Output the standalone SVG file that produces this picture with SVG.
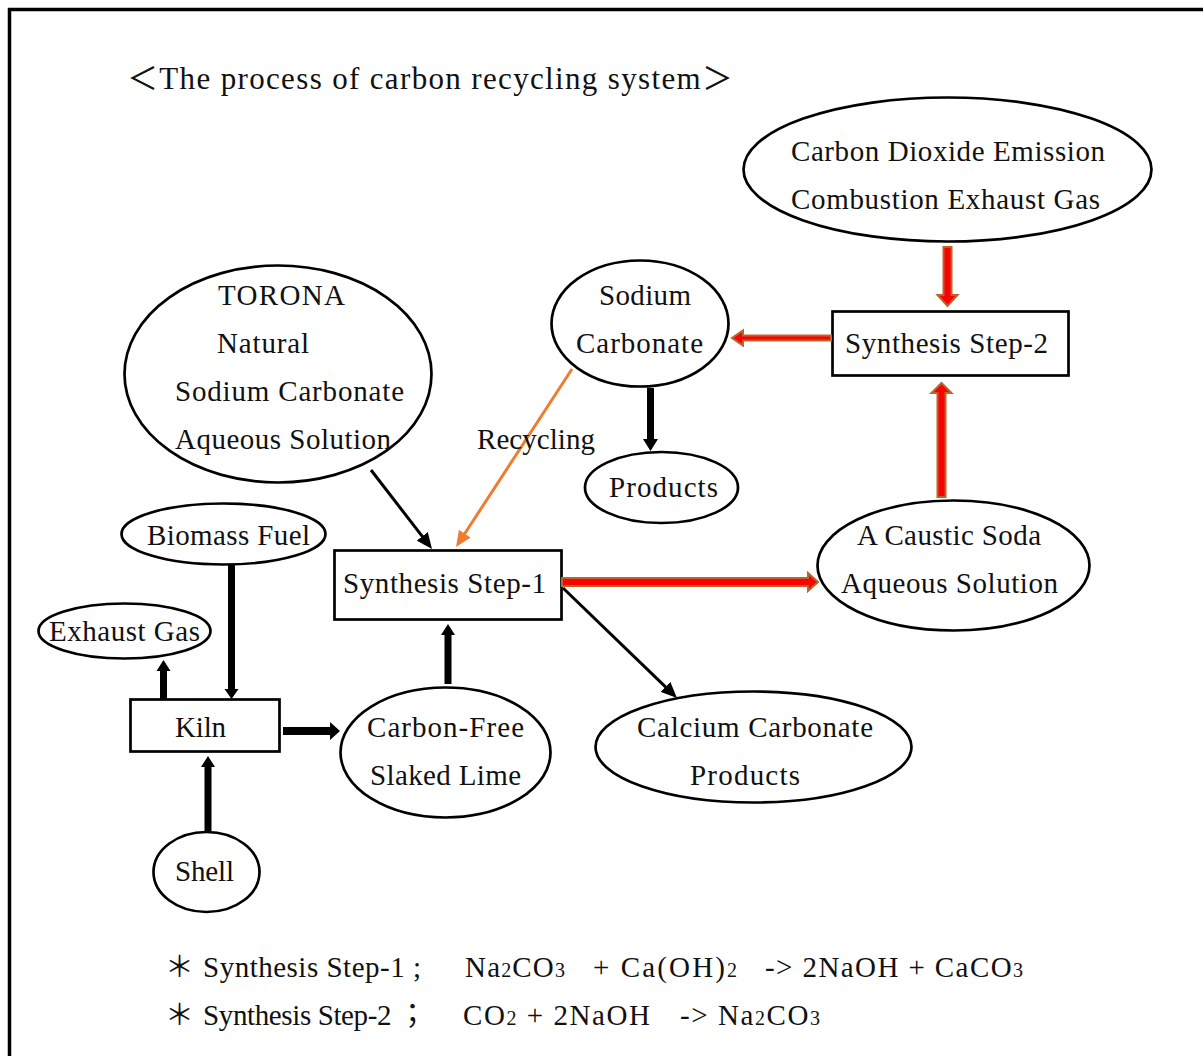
<svg xmlns="http://www.w3.org/2000/svg" width="1203" height="1056" viewBox="0 0 1203 1056">
<style>
text{font-family:'Liberation Serif','Noto Sans CJK JP',serif;font-size:29px;fill:#111;}
.sh{fill:#fff;stroke:#000;stroke-width:2.7;}
.red{fill:#ff0000;stroke:#b8652e;stroke-width:2;}
.blk{fill:#000;}
.sub{font-size:20px;}
</style>
<defs>
<marker id="ah" markerUnits="userSpaceOnUse" markerWidth="16" markerHeight="14" refX="8" refY="7" orient="auto"><path d="M0,0 L16,7 L0,14 z" fill="#000"/></marker>
<marker id="ao" markerUnits="userSpaceOnUse" markerWidth="16" markerHeight="14" refX="8" refY="7" orient="auto"><path d="M0,0 L16,7 L0,14 z" fill="#ed7d31"/></marker>
</defs>
<rect width="1203" height="1056" fill="#fff"/>
<rect x="9.5" y="9.5" width="1260" height="1110" fill="none" stroke="#000" stroke-width="3.5"/>
<text id="title" x="127" y="89" textLength="606" style="font-size:31px">＜The process of carbon recycling system＞</text>

<g id="co2"><ellipse class="sh" cx="947.5" cy="169.5" rx="204" ry="72"/><text x="791" y="161" textLength="314">Carbon Dioxide Emission</text><text x="791" y="209" textLength="309">Combustion Exhaust Gas</text></g>
<g id="step2"><rect class="sh" x="832.5" y="311.5" width="236" height="64"/><text x="845" y="353" textLength="203">Synthesis Step-2</text></g>
<g id="sodium"><ellipse class="sh" cx="640" cy="323.5" rx="88.5" ry="63"/><text x="599" y="305" textLength="92">Sodium</text><text x="576" y="353" textLength="127">Carbonate</text></g>
<g id="products1"><ellipse class="sh" cx="661.5" cy="487.5" rx="76.5" ry="35.5"/><text x="609" y="497" textLength="109">Products</text></g>
<g id="torona"><ellipse class="sh" cx="278" cy="374" rx="153.5" ry="108.5"/><text x="218" y="305" textLength="127">TORONA</text><text x="217" y="353" textLength="92">Natural</text><text x="175" y="401" textLength="229">Sodium Carbonate</text><text x="175" y="449" textLength="216">Aqueous Solution</text></g>
<g id="biomass"><ellipse class="sh" cx="223.5" cy="534" rx="102" ry="30.5"/><text x="147" y="545" textLength="163">Biomass Fuel</text></g>
<g id="step1"><rect class="sh" x="334.5" y="550.5" width="227" height="69"/><text x="343" y="593" textLength="203">Synthesis Step-1</text></g>
<g id="caustic"><ellipse class="sh" cx="953.5" cy="565.5" rx="136" ry="65"/><text x="857" y="545" textLength="184">A Caustic Soda</text><text x="841" y="593" textLength="217">Aqueous Solution</text></g>
<g id="exhaust"><ellipse class="sh" cx="124.5" cy="631" rx="86" ry="27.5"/><text x="49" y="641" textLength="151">Exhaust Gas</text></g>
<g id="kiln"><rect class="sh" x="130.5" y="699.5" width="149" height="52"/><text x="175" y="737" textLength="51">Kiln</text></g>
<g id="lime"><ellipse class="sh" cx="445.5" cy="752.5" rx="105" ry="65"/><text x="367" y="737" textLength="157">Carbon-Free</text><text x="370" y="785" textLength="151">Slaked Lime</text></g>
<g id="caco3"><ellipse class="sh" cx="753.5" cy="747" rx="158" ry="55.5"/><text x="637" y="737" textLength="236">Calcium Carbonate</text><text x="690" y="785" textLength="110">Products</text></g>
<g id="shell"><ellipse class="sh" cx="206.5" cy="872" rx="53" ry="40"/><text x="175" y="881" textLength="59">Shell</text></g>

<g id="connectors">
<polygon class="red" points="943.5,247 951.5,247 951.5,295 957.5,295 947.5,306 937.5,295 943.5,295"/>
<polygon class="red" points="937.5,497 945.5,497 945.5,393 951.5,393 941.5,383 931.5,393 937.5,393"/>
<polygon class="red" points="831,335.5 831,340.5 743,340.5 743,345.5 732,338 743,330.5 743,335.5"/>
<polygon class="red" points="562,578 808,578 808,573 818,582 808,591 808,586 562,586"/>
<polygon class="blk" points="647,388 654,388 654,439 658,439 650.5,451 643,439 647,439"/>
<polygon class="blk" points="444.5,684 451.5,684 451.5,635 455,635 448,624 441,635 444.5,635"/>
<polygon class="blk" points="283,727 330,727 330,722 340,731 330,740 330,735 283,735"/>
<polygon class="blk" points="228,565 235,565 235,689 238.5,689 231.5,699 224.5,689 228,689"/>
<polygon class="blk" points="160,699 167,699 167,671 170.5,671 163.5,660 156.5,671 160,671"/>
<polygon class="blk" points="204.5,831 211.5,831 211.5,767 215,767 208,756 201,767 204.5,767"/>
<line x1="371" y1="470" x2="427.1" y2="542.7" stroke="#000" stroke-width="3" marker-end="url(#ah)"/>
<line x1="563" y1="588" x2="671.2" y2="692.4" stroke="#000" stroke-width="3" marker-end="url(#ah)"/>
<line x1="572" y1="369" x2="460.4" y2="540.3" stroke="#ed7d31" stroke-width="3" marker-end="url(#ao)"/>
<text x="477" y="449" textLength="118">Recycling</text>
</g>

<g id="notes">
<text x="165" y="977">＊</text>
<text x="203" y="977" textLength="218">Synthesis Step-1 ;</text>
<text x="465" y="977" textLength="100">Na<tspan class="sub">2</tspan>CO<tspan class="sub">3</tspan></text>
<text x="593" y="977" textLength="144">+ Ca(OH)<tspan class="sub">2</tspan></text>
<text x="765" y="977" textLength="258">-&gt; 2NaOH + CaCO<tspan class="sub">3</tspan></text>
<text x="165" y="1025">＊</text>
<text x="203" y="1025" textLength="224">Synthesis Step-2 ；</text>
<text x="463" y="1025" textLength="187">CO<tspan class="sub">2</tspan> + 2NaOH</text>
<text x="680" y="1025" textLength="140">-&gt; Na<tspan class="sub">2</tspan>CO<tspan class="sub">3</tspan></text>
</g>
</svg>
